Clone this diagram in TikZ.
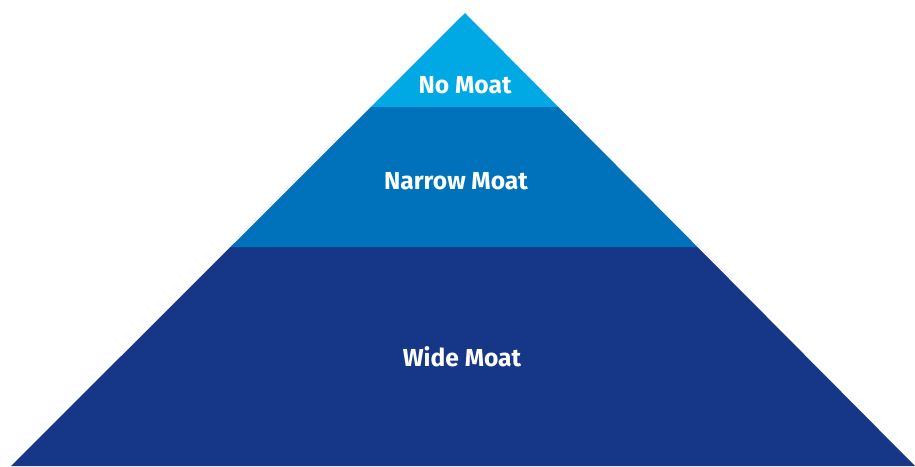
\documentclass[tikz,border=0pt]{standalone}
\usepackage{fontspec}
\setmainfont{Fira Sans}
\usetikzlibrary{calc}
\definecolor{moattop}{RGB}{0,169,227}
\definecolor{moatmid}{RGB}{0,114,187}
\definecolor{moatlow}{RGB}{22,55,136}

\begin{document}
\begin{tikzpicture}[x=0.02cm,y=-0.02cm,
        layer/.style={draw=none},
        lbl/.style={text=white, font=\fontsize{14}{16}\selectfont\bfseries, inner sep=0pt}]
        \useasboundingbox (0,0) rectangle (915,466);
        \coordinate (apex) at (465,13);
        \coordinate (bl) at (11,466);
        \coordinate (br) at (915,466);
        \coordinate (l1) at ($(apex)!0.2075!(bl)$);
        \coordinate (r1) at ($(apex)!0.2075!(br)$);
        \coordinate (l2) at ($(apex)!0.5166!(bl)$);
        \coordinate (r2) at ($(apex)!0.5166!(br)$);
        \fill[layer, moatlow] (l2) -- (r2) -- (br) -- (bl) -- cycle;
        \fill[layer, moatmid] (l1) -- (r1) -- (r2) -- (l2) -- cycle;
        \fill[layer, moattop] (apex) -- (r1) -- (l1) -- cycle;
        \node[lbl] (nomoat) at (465,85) {No Moat};
        \node[lbl] (narrow) at (456,181) {Narrow Moat};
        \node[lbl] (wide) at (462,357) {Wide Moat};
    \end{tikzpicture}
\end{document}
